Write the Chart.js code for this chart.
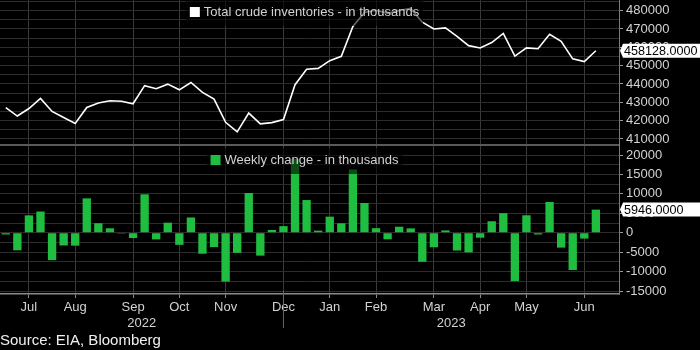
<!DOCTYPE html>
<html>
<head>
<meta charset="utf-8">
<script src="https://cdn.jsdelivr.net/npm/chart.js@4.4.0/dist/chart.umd.min.js"></script>
<style>
  html, body { margin: 0; padding: 0; background: #000; }
  #wrap { width: 700px; height: 350px; }
</style>
</head>
<body>
<div id="wrap"><canvas id="chart" width="700" height="350"></canvas></div>
<script>
// --- Data (weekly, week ending Friday) ---
const weeks = [
    '2022-07-15', '2022-07-22', '2022-07-29', '2022-08-05', '2022-08-12', '2022-08-19', '2022-08-26',
    '2022-09-02', '2022-09-09', '2022-09-16', '2022-09-23', '2022-09-30', '2022-10-07', '2022-10-14',
    '2022-10-21', '2022-10-28', '2022-11-04', '2022-11-11', '2022-11-18', '2022-11-25', '2022-12-02',
    '2022-12-09', '2022-12-16', '2022-12-23', '2022-12-30', '2023-01-06', '2023-01-13', '2023-01-20',
    '2023-01-27', '2023-02-03', '2023-02-10', '2023-02-17', '2023-02-24', '2023-03-03', '2023-03-10',
    '2023-03-17', '2023-03-24', '2023-03-31', '2023-04-07', '2023-04-14', '2023-04-21', '2023-04-28',
    '2023-05-05', '2023-05-12', '2023-05-19', '2023-05-26', '2023-06-02', '2023-06-09', '2023-06-16',
    '2023-06-23', '2023-06-30', '2023-07-07'
];
const inventories = [
    427100, 422500, 426600, 432100, 425000, 421700, 418400, 427200, 429600, 430800, 430600, 429200,
    439100, 437400, 439900, 436800, 440800, 435400, 431700, 419100, 413900, 424100, 418200, 418900,
    420600, 439600, 448000, 448500, 452700, 455100, 471400, 479000, 480200, 478500, 480100, 481200,
    473700, 470000, 470600, 466000, 460900, 459600, 462600, 467600, 455200, 459700, 459200, 467100,
    463300, 453700, 452200, 458128
];
const weeklyChange = [
    -446, -4523, 4467, 5457, -7056, -3282, -3326, 8844, 2442, 1142, -215, -1356,
    9880, -1725, 2588, -3115, 3925, -5400, -3691, -12580, -5186, 10231, -5895, 718,
    1694, 18961, 8408, 533, 4140, 2423, 16283, 7648, 1166, -1694, 1550, 1117,
    -7489, -3739, 597, -4581, -5054, -1280, 2951, 5040, -12456, 4489, -451, 7919,
    -3831, -9603, -1508, 5946
];

// --- Axis labels ---
const monthTickIndex = [2, 6, 11, 15, 19, 24, 28, 32, 37, 41, 45, 50];
const monthTickLabels = ['Jul', 'Aug', 'Sep', 'Oct', 'Nov', 'Dec', 'Jan', 'Feb', 'Mar', 'Apr', 'May', 'Jun'];
const yearLabels = ['2022', '2023'];
const yearBreakIndex = 24;
const topGridValues = [410000, 415000, 420000, 425000, 430000, 435000, 440000, 445000,
    450000, 455000, 460000, 465000, 470000, 475000, 480000, 485000];
const topLabelValues = [410000, 420000, 430000, 440000, 450000, 460000, 470000, 480000];
const bottomGridValues = [-15000, -12500, -10000, -7500, -5000, -2500, 0, 2500, 5000, 7500,
    10000, 12500, 15000, 17500, 20000, 22500];
const bottomLabelValues = [-15000, -10000, -5000, 0, 5000, 10000, 15000, 20000];

// --- Style ---
const fontFamily = "'Liberation Sans', Arial, sans-serif";
const labelColor = '#d2d2d2';
const barGreen = '#20be40';
const axisWidth = 81;

const canvas = document.getElementById('chart');
const ctx = canvas.getContext('2d');

function noPadding(scale) {
    scale.paddingTop = 0;
    scale.paddingBottom = 0;
    scale.paddingLeft = 0;
    scale.paddingRight = 0;
}

// legends, value tags, year row, panel separator
const panelDecor = {
    id: 'panelDecor',
    afterDatasetsDraw(chart) {
        const c = chart.ctx;
        const area = chart.chartArea;
        const yTop = chart.scales.yTop;
        const yBot = chart.scales.yBot;

        // separator between the two panels
        c.save();
        c.strokeStyle = '#5a5a5a';
        c.lineWidth = 2;
        c.beginPath();
        c.moveTo(area.left, yTop.bottom);
        c.lineTo(area.right, yTop.bottom);
        c.stroke();
        c.restore();

        const cx = (area.left + area.right) / 2 - 5;
        drawLegend(c, cx, yTop.top + 12, chart.data.datasets[0].label, '#ffffff');
        drawLegend(c, cx, yBot.top + 15, chart.data.datasets[1].label, barGreen);
    },
    afterDraw(chart) {
        const c = chart.ctx;
        const area = chart.chartArea;
        const x = chart.scales.x;

        // value tags for the latest week
        const last = inventories.length - 1;
        drawTag(c, area.right, chart.scales.yTop.getPixelForValue(inventories[last]), inventories[last].toFixed(4));
        drawTag(c, area.right, chart.scales.yBot.getPixelForValue(weeklyChange[last]), weeklyChange[last].toFixed(4));

        // year row
        const breakX = x.getPixelForValue(yearBreakIndex);
        c.save();
        c.strokeStyle = '#666';
        c.lineWidth = 1;
        c.beginPath();
        c.moveTo(breakX, area.bottom - 3);
        c.lineTo(breakX, area.bottom + 34);
        c.stroke();
        c.fillStyle = labelColor;
        c.font = '13px ' + fontFamily;
        c.textAlign = 'center';
        c.textBaseline = 'middle';
        c.fillText(yearLabels[0], (area.left + breakX) / 2, area.bottom + 29);
        c.fillText(yearLabels[1], (breakX + area.right) / 2, area.bottom + 29);
        c.restore();
    }
};

function drawLegend(c, cx, cy, text, color) {
    c.save();
    c.font = '13px ' + fontFamily;
    const tw = c.measureText(text).width;
    const total = 10 + 4 + tw;
    const left = cx - total / 2;
    c.fillStyle = 'rgba(0, 0, 0, 0.6)';
    c.fillRect(left - 4, cy - 12, total + 8, 26);
    c.fillStyle = color;
    c.fillRect(left, cy - 5, 10, 10);
    c.fillStyle = labelColor;
    c.textBaseline = 'middle';
    c.fillText(text, left + 14, cy + 0.5);
    c.restore();
}

function drawTag(c, x0, y, text) {
    c.save();
    c.fillStyle = '#ffffff';
    c.beginPath();
    c.moveTo(x0 + 1, y);
    c.lineTo(x0 + 4, y - 7);
    c.lineTo(700, y - 7);
    c.lineTo(700, y + 7);
    c.lineTo(x0 + 4, y + 7);
    c.closePath();
    c.fill();
    c.fillStyle = '#000000';
    c.font = '12.6px ' + fontFamily;
    c.textBaseline = 'middle';
    c.fillText(text, x0 + 5, y + 0.5);
    c.restore();
}

const chart = new Chart(ctx, {
    type: 'bar',
    data: {
        labels: weeks,
        datasets: [
            {
                type: 'line',
                label: 'Total crude inventories - in thousands',
                data: inventories.map((v, i) => ({ x: i, y: v })),
                yAxisID: 'yTop',
                borderColor: '#ffffff',
                borderWidth: 1.6,
                pointRadius: 0,
                tension: 0,
                fill: false
            },
            {
                type: 'bar',
                label: 'Weekly change - in thousands',
                data: weeklyChange.map((v, i) => ({ x: i, y: v })),
                yAxisID: 'yBot',
                backgroundColor: barGreen,
                borderWidth: 0,
                barPercentage: 0.72,
                categoryPercentage: 1
            }
        ]
    },
    options: {
        responsive: false,
        animation: false,
        layout: { padding: 0 },
        scales: {
            x: {
                type: 'linear',
                offset: false,
                min: -0.5,
                max: 53,
                afterBuildTicks: s => { s.ticks = monthTickIndex.map(v => ({ value: v })); },
                ticks: {
                    callback: v => monthTickLabels[monthTickIndex.indexOf(v)],
                    color: labelColor,
                    font: { size: 13, family: fontFamily },
                    maxRotation: 0,
                    autoSkip: false,
                    padding: 2
                },
                grid: { color: '#3a3a3a', tickLength: 4, tickColor: '#888', offset: false },
                border: { color: '#8a8a8a', width: 1.5 },
                afterFit: s => { s.height = 38; noPadding(s); }
            },
            yTop: {
                type: 'linear',
                position: 'right',
                stack: 'panels',
                stackWeight: 145,
                min: 406700,
                max: 485800,
                afterBuildTicks: s => { s.ticks = topGridValues.map(v => ({ value: v })); },
                ticks: {
                    callback: v => topLabelValues.includes(v) ? String(v) : '',
                    color: labelColor,
                    font: { size: 13, family: fontFamily },
                    padding: 3,
                    autoSkip: false
                },
                grid: {
                    color: '#2c2c2c',
                    tickLength: 4,
                    tickColor: c => topLabelValues.includes(c.tick.value) ? '#999' : 'rgba(0,0,0,0)'
                },
                border: { color: '#7a7a7a' },
                afterFit: s => { s.width = axisWidth; noPadding(s); }
            },
            yBot: {
                type: 'linear',
                position: 'right',
                stack: 'panels',
                stackWeight: 149,
                min: -15770,
                max: 22577,
                afterBuildTicks: s => { s.ticks = bottomGridValues.map(v => ({ value: v })); },
                ticks: {
                    callback: v => bottomLabelValues.includes(v) ? String(v) : '',
                    color: labelColor,
                    font: { size: 13, family: fontFamily },
                    padding: 3,
                    autoSkip: false
                },
                grid: {
                    color: '#2c2c2c',
                    tickLength: 4,
                    tickColor: c => bottomLabelValues.includes(c.tick.value) ? '#999' : 'rgba(0,0,0,0)'
                },
                border: { color: '#7a7a7a' },
                afterFit: s => { s.width = axisWidth; noPadding(s); }
            }
        },
        plugins: {
            legend: { display: false },
            tooltip: { enabled: false },
            title: {
                display: true,
                position: 'bottom',
                align: 'start',
                text: 'Source: EIA, Bloomberg',
                color: '#f0f0f0',
                font: { size: 15, weight: 'normal', family: fontFamily },
                padding: { top: 0, bottom: 0 }
            }
        }
    },
    plugins: [panelDecor]
});
</script>
</body>
</html>
